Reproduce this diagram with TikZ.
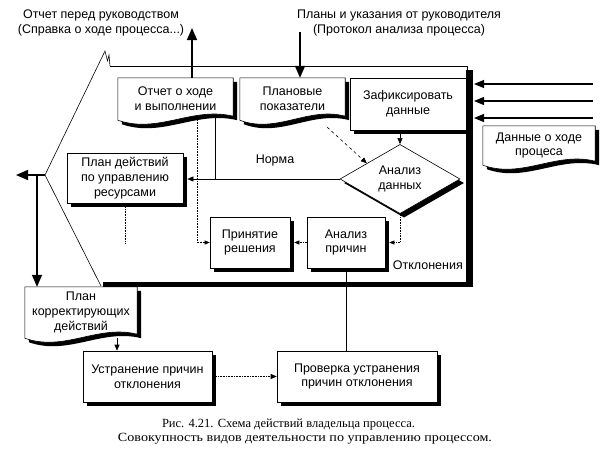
\documentclass[tikz,border=0pt]{standalone}
\usepackage{fontspec}
\setmainfont{Liberation Serif}
\setsansfont{Liberation Sans}
\usetikzlibrary{arrows.meta,shadows,shapes.geometric,calc}
\pgfdeclarelayer{background}
\pgfsetlayers{background,main}
\tikzset{
  lbl/.style={font=\sffamily\fontsize{12.5}{14.8}\selectfont, align=center, inner sep=0pt},
  rbox/.style={lbl, draw, line width=0.6pt, fill=white,
    drop shadow={shadow xshift=4pt, shadow yshift=-4pt, fill=black, opacity=1}},
  docnode/.style={lbl},
  captext/.style={font=\fontsize{12.5}{14}\selectfont, inner sep=0pt},
  bigarrow/.style={line width=1.6pt, -{Triangle[length=12pt,width=10pt]}},
  medarrow/.style={line width=1.1pt, -{Triangle[length=10pt,width=8pt]}},
  smallarrow/.style={line width=0.6pt, -{Triangle[length=6pt,width=5pt]}},
  dotline/.style={line width=0.6pt, densely dotted},
  thinline/.style={line width=0.6pt},
}
\newcommand\docpath[2]{($(#1.north west)+(#2)$) -- ($(#1.north east)+(#2)$) -- ($(#1.south east)+(#2)+(0,-4)$) .. controls ($(#1.south east)!0.35!(#1.south west)+(#2)+(0,-14)$) and ($(#1.south west)!0.35!(#1.south east)+(#2)+(0,14)$) .. ($(#1.south west)+(#2)$) -- cycle}
\newcommand\drawdoc[1]{%
  \begin{pgfonlayer}{background}
    \fill[black] \docpath{#1}{4,4};
    \filldraw[fill=white, line width=0.6pt] \docpath{#1}{0,0};
  \end{pgfonlayer}}
\begin{document}
\begin{tikzpicture}[x=1pt,y=-1pt]
\useasboundingbox (0,0) rectangle (615,456);

% frame
\coordinate (apex) at (45,175);
\coordinate (lt) at (16,175);
\coordinate (br) at (37,175);
\draw[thinline] (110,66) -- (467,66) -- (467,72);
\fill (466,70) rectangle (473,287);
\fill (103,282) rectangle (473,287);
\draw[thinline] (101,286) -- (apex) -- (105,51) -- (107.5,61) -- (109,55) -- (110,66);

% top texts
\node[lbl] (rep) at (101,23) {Отчет перед руководством\\(Справка о ходе процесса...)};
\node[lbl] (plans) at (399,23) {Планы и указания от руководителя\\(Протокол анализа процесса)};

% document nodes
\node[docnode, minimum width=115, minimum height=42] (otchet) at (175.5,99) {Отчет о ходе\\и выполнении};
\node[docnode, minimum width=105, minimum height=42] (plan) at (292.5,99) {Плановые\\показатели};
\node[docnode, minimum width=112, minimum height=39] (dannye) at (539,145.5) {Данные о ходе\\процеса};
\node[docnode, minimum width=112, minimum height=51] (korr) at (81,312.5) {План\\корректирующих\\действий};
\drawdoc{otchet}
\drawdoc{plan}
\drawdoc{dannye}
\drawdoc{korr}

% rectangles
\node[rbox, minimum width=116, minimum height=52] (zafiks) at (408,104) {Зафиксировать\\данные};
\node[rbox, minimum width=116, minimum height=50] (pland) at (125,178) {План действий\\по управлению\\ресурсами};
\node[rbox, minimum width=80, minimum height=51] (prin) at (250,242.5) {Принятие\\решения};
\node[rbox, minimum width=78, minimum height=51] (anpr) at (346,242.5) {Анализ\\причин};
\node[rbox, minimum width=129, minimum height=51] (ustr) at (147.5,376.5) {Устранение причин\\отклонения};
\node[rbox, minimum width=160, minimum height=51] (prov) at (357,376.5) {Проверка устранения\\причин отклонения};
\node[lbl, diamond, draw, line width=0.6pt, fill=white, minimum width=120, minimum height=58,
  drop shadow={shadow xshift=4pt, shadow yshift=-4pt, fill=black, opacity=1}] (dia) at (400,179) {Анализ\\данных};

% labels
\node[lbl] (norma) at (275,160) {Норма};
\node[lbl, anchor=east] (otkl) at (463,265) {Отклонения};

% arrows to/from outside
\coordinate (outx) at (192,28);
\coordinate (inx) at (300,32);
\draw[bigarrow] (otchet.north -| outx) -- (outx);
\draw[bigarrow] (inx) -- (inx |- plan.north);
\coordinate (r1) at (593,84);
\coordinate (r2) at (593,101);
\coordinate (r3) at (593,118);
\coordinate (frameR) at (474,0);
\draw[medarrow] (r1) -- (r1 -| frameR);
\draw[medarrow] (r2) -- (r2 -| frameR);
\draw[medarrow] (r3) -- (r3 -| frameR);
\draw[bigarrow] (apex) -- (lt);
\draw[bigarrow] (br) -- (br |- korr.north);

% internal connectors
\draw[smallarrow] (zafiks.south -| dia.north) -- (dia.north);
\draw[thinline, dashed, -{Triangle[length=6pt,width=5pt]}] ($(plan.south east)+(-18,7)$) -- ($(dia.west)!0.45!(dia.north)$);
\draw[smallarrow] (dia.west) -- ($(dia.west -| pland.east)+(4,0)$);
\coordinate (nx) at (215,0);
\draw[thinline] (nx |- dia.west) -- ($(nx |- otchet.south)+(0,-2)$);
\coordinate (dx) at (197,0);
\draw[dotline, -{Triangle[length=5pt,width=4pt]}] (dx |- otchet.south) -- (dx |- prin.west) -- (prin.west);
\coordinate (pe) at (125,243);
\draw[dotline] ($(pland.south)+(0,4)$) -- (pe);
\draw[dotline, -{Triangle[length=5pt,width=4pt]}] (dia.south) -- (dia.south |- anpr.east) -- ($(anpr.east)+(4,0)$);
\draw[dotline, -{Triangle[length=5pt,width=4pt]}] (anpr.west) -- ($(prin.east)+(4,0)$);
\draw[thinline] (anpr.south) -- (anpr.south |- prov.north);
\coordinate (kx) at (117,0);
\draw[smallarrow] (korr.south -| kx) -- (ustr.north -| kx);
\draw[dotline, -{Triangle[length=6pt,width=5pt]}] ($(ustr.east)+(4,0)$) -- (prov.west);

% caption
\node[captext] (c1) at (288.5,425) {\resizebox{253pt}{\height}{Рис. 4.21. Схема действий владельца процесса.}};
\node[captext] (c2) at (305,439) {\resizebox{374pt}{\height}{Совокупность видов деятельности по управлению процессом.}};
\end{tikzpicture}
\end{document}
